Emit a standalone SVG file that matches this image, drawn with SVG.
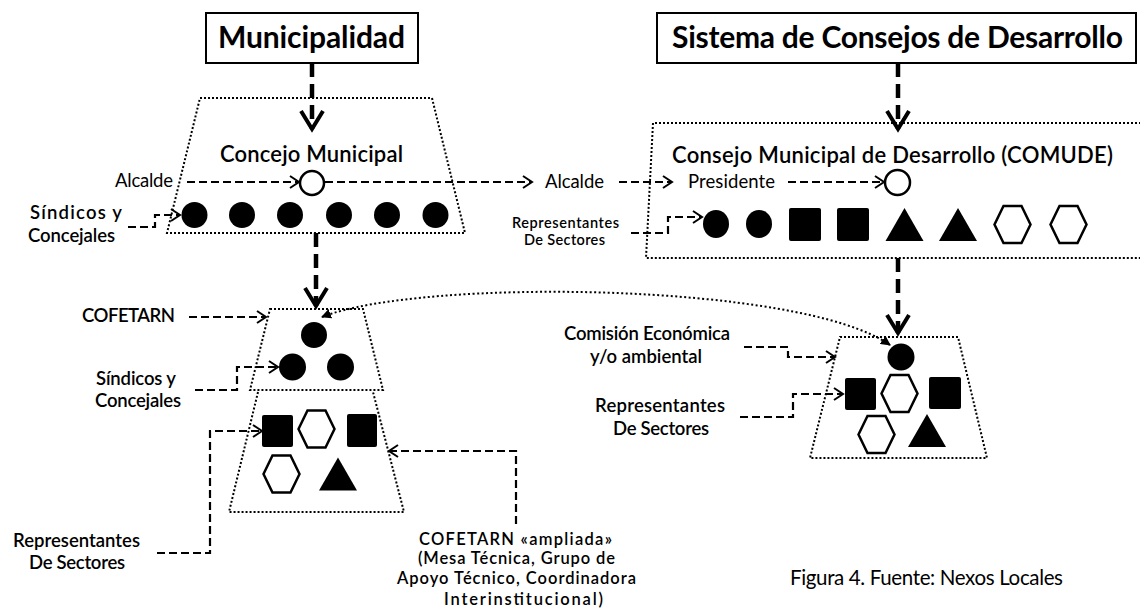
<svg xmlns="http://www.w3.org/2000/svg" width="1140" height="614" viewBox="0 0 1140 614">
<style>
 .dot{fill:none;stroke:#000;stroke-width:2;stroke-dasharray:2 2}
 .thin{fill:none;stroke:#000;stroke-width:2.2;stroke-dasharray:8 4}
 .thick{fill:none;stroke:#000;stroke-width:4.5;stroke-dasharray:14 7}
 .fine{fill:none;stroke:#000;stroke-width:2;stroke-dasharray:2 2.5}
 .f{fill:#000}
 .o{fill:#fff;stroke:#000;stroke-width:2.5}
 .box{fill:#fff;stroke:#000;stroke-width:2}
 text{font-family:Lato,"Open Sans",sans-serif;fill:#000}
 .t{font-size:30px;font-weight:bold}
 .h{font-size:22px;font-weight:600}
 .r{font-size:18.5px}
 .b{font-size:18.5px;font-weight:600}
 .n{font-size:16.5px;font-weight:600}
 .s{font-size:14.5px;font-weight:600}
 .cap{font-size:20.5px}
</style>
<defs>
 <marker id="ah" markerUnits="userSpaceOnUse" viewBox="0 0 12 14" markerWidth="12" markerHeight="14" refX="10" refY="7" orient="auto">
  <path d="M1,1 L10,7 L1,13" fill="none" stroke="#000" stroke-width="2" stroke-dasharray="none"/>
 </marker>
 <marker id="ahT" markerUnits="userSpaceOnUse" viewBox="0 0 24 26" markerWidth="24" markerHeight="26" refX="20" refY="13" orient="auto">
  <path d="M2,2 L20,13 L2,24" fill="none" stroke="#000" stroke-width="4" stroke-dasharray="none"/>
 </marker>
 <marker id="ahS" markerUnits="userSpaceOnUse" viewBox="0 0 10 10" markerWidth="10" markerHeight="10" refX="9" refY="5" orient="auto-start-reverse">
  <path d="M0,0 L10,5 L0,10 Z" fill="#000" stroke="none"/>
 </marker>
 <polygon id="hex" points="-18,0 -9,-18.5 9,-18.5 18,0 9,18.5 -9,18.5"/>
 <polygon id="tri" points="0,-16.5 19,16.5 -19,16.5"/>
</defs>

<g id="connectors">
 <path class="thick" d="M312,63 L312,129" marker-end="url(#ahT)"/>
 <path class="thick" d="M898,63 L898,129" marker-end="url(#ahT)"/>
 <path class="thick" d="M316,233 L316,306" marker-end="url(#ahT)"/>
 <path class="thick" d="M898,258 L898,333" marker-end="url(#ahT)"/>
 <path class="thin" d="M187,182 L299,182" marker-end="url(#ah)"/>
 <path class="thin" d="M325,182 L532,182" marker-end="url(#ah)"/>
 <path class="thin" d="M619,182 L672,182" marker-end="url(#ah)"/>
 <path class="thin" d="M788,182 L884,182" marker-end="url(#ah)"/>
 <path class="thin" d="M128,227 L155,227 L155,215 L180,215" marker-end="url(#ah)"/>
 <path class="thin" d="M631,233 L668,233 L668,217 L702,217" marker-end="url(#ah)"/>
 <path class="thin" d="M189,317 L266,317" marker-end="url(#ah)"/>
 <path class="thin" d="M195,390 L237,390 L237,367 L278,367" marker-end="url(#ah)"/>
 <path class="thin" d="M157,553 L210,553 L210,431 L262,431" marker-end="url(#ah)"/>
 <path class="thin" d="M516,524 L516,451 L389,451" marker-end="url(#ah)"/>
 <path class="thin" d="M744,347 L788,347 L788,357 L835,357" marker-end="url(#ah)"/>
 <path class="thin" d="M740,417 L793,417 L793,394 L843,394" marker-end="url(#ah)"/>
 <path class="fine" d="M322,317 C420,278 800,282 890,345" marker-start="url(#ahS)" marker-end="url(#ahS)"/>
</g>

<g id="municipalidad">
 <rect class="box" x="206" y="13" width="212" height="50"/>
 <text class="t" x="218" y="48" textLength="187">Municipalidad</text>
</g>

<g id="sistema">
 <rect class="box" x="657" y="13" width="479" height="50"/>
 <text class="t" x="672" y="48" textLength="451">Sistema de Consejos de Desarrollo</text>
</g>

<g id="concejo-municipal">
 <polygon class="dot" points="200,98 432,98 465,233 167,233"/>
 <text class="h" x="220" y="162" textLength="183">Concejo Municipal</text>
 <circle class="o" cx="312" cy="183" r="12"/>
 <circle class="f" cx="194.5" cy="215" r="13"/>
 <circle class="f" cx="242" cy="215" r="13"/>
 <circle class="f" cx="290" cy="215" r="13"/>
 <circle class="f" cx="339" cy="215" r="13"/>
 <circle class="f" cx="387" cy="215" r="13"/>
 <circle class="f" cx="435.5" cy="215" r="13"/>
</g>

<g id="comude">
 <polyline class="dot" points="1145,123 653,123 646,258 1145,258"/>
 <text class="h" x="672" y="163" textLength="441">Consejo Municipal de Desarrollo (COMUDE)</text>
 <circle class="o" cx="897.5" cy="182.5" r="12.5"/>
 <ellipse class="f" cx="716" cy="224" rx="13" ry="14"/>
 <ellipse class="f" cx="759" cy="224" rx="13" ry="14"/>
 <rect class="f" x="789" y="208" width="32" height="33" rx="2"/>
 <rect class="f" x="837" y="208" width="32" height="33" rx="2"/>
 <use href="#tri" class="f" x="904.5" y="224.5"/>
 <use href="#tri" class="f" x="958" y="224.5"/>
 <use href="#hex" class="o" x="1012.5" y="224.5"/>
 <use href="#hex" class="o" x="1068.5" y="224.5"/>
</g>

<g id="cofetarn">
 <polygon class="dot" points="270,309 363,309 383,390 250,390"/>
 <circle class="f" cx="314" cy="335" r="13"/>
 <circle class="f" cx="292.5" cy="367" r="13.5"/>
 <circle class="f" cx="340.5" cy="367" r="13.5"/>
</g>

<g id="cofetarn-ampliada">
 <polyline class="dot" points="258,392 229,512 404,512 373,392"/>
 <rect class="f" x="262" y="415" width="31" height="32" rx="2"/>
 <use href="#hex" class="o" x="316.5" y="429"/>
 <rect class="f" x="347" y="414" width="30" height="33" rx="2"/>
 <use href="#hex" class="o" x="281.5" y="474"/>
 <use href="#tri" class="f" x="338" y="474"/>
</g>

<g id="comision">
 <polygon class="dot" points="840,337 958,337 987,458 810,458"/>
 <circle class="f" cx="901" cy="357" r="13.5"/>
 <rect class="f" x="845" y="378" width="31" height="32" rx="2"/>
 <use href="#hex" class="o" x="899.5" y="393.5"/>
 <rect class="f" x="929" y="377" width="32" height="32" rx="2"/>
 <use href="#hex" class="o" x="876.5" y="434.5"/>
 <use href="#tri" class="f" x="927" y="430.5"/>
</g>

<g id="labels">
 <text class="r" x="115" y="187" textLength="58">Alcalde</text>
 <text class="r" x="545" y="188" textLength="59">Alcalde</text>
 <text class="r" x="688" y="188" textLength="87">Presidente</text>
 <text class="b" x="30" y="219" textLength="92">Síndicos y</text>
 <text class="b" x="28" y="242" textLength="87">Concejales</text>
 <text class="s" x="512" y="228" textLength="107">Representantes</text>
 <text class="s" x="524" y="245" textLength="81">De Sectores</text>
 <text class="b" x="82" y="322" textLength="93">COFETARN</text>
 <text class="b" x="96" y="385" textLength="80">Síndicos y</text>
 <text class="b" x="95" y="407" textLength="86">Concejales</text>
 <text class="b" x="13" y="547" textLength="127">Representantes</text>
 <text class="b" x="29" y="569" textLength="96">De Sectores</text>
 <text class="n" x="419" y="545" textLength="193">COFETARN «ampliada»</text>
 <text class="n" x="418" y="564" textLength="197">(Mesa Técnica, Grupo de</text>
 <text class="n" x="397" y="584" textLength="239">Apoyo Técnico, Coordinadora</text>
 <text class="n" x="444" y="605" textLength="159">Interinstitucional)</text>
 <text class="b" x="564" y="340" textLength="166">Comisión Económica</text>
 <text class="b" x="590" y="363" textLength="112">y/o ambiental</text>
 <text class="b" x="595" y="412" textLength="130">Representantes</text>
 <text class="b" x="613" y="435" textLength="96">De Sectores</text>
 <text class="cap" x="790" y="585" textLength="273">Figura 4. Fuente: Nexos Locales</text>
</g>
</svg>
